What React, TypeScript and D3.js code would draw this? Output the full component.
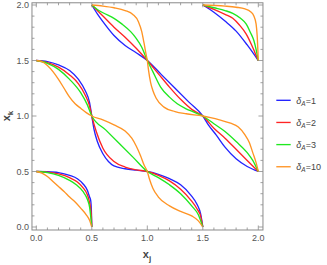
import React from "react";
import * as d3 from "d3";

type P = [number, number];

// δA = 1 (four branches)
const delta1: P[][] = [
  [[0,1.5],[0.1,1.49],[0.2,1.46],[0.3,1.41],[0.38,1.33],[0.44,1.23],[0.48,1.12],[0.5,1.0],[0.52,0.88],[0.55,0.77],[0.6,0.66],[0.65,0.59],[0.7,0.55],[0.8,0.525],[0.9,0.512],[1.0,0.5],[1.1,0.475],[1.2,0.435],[1.3,0.38],[1.39,0.29],[1.45,0.2],[1.48,0.12],[1.5,0]],
  [[0.5,2],[0.55,1.92],[0.6,1.85],[0.7,1.725],[0.8,1.635],[0.9,1.57],[1.0,1.5],[1.125,1.375],[1.25,1.25],[1.375,1.125],[1.5,1.0],[1.55,0.92],[1.62,0.83],[1.7,0.72],[1.8,0.615],[1.9,0.545],[2,0.5]],
  [[0,0.5],[0.1,0.498],[0.2,0.49],[0.3,0.465],[0.37,0.435],[0.42,0.39],[0.46,0.33],[0.48,0.27],[0.49,0.24],[0.497,0.12],[0.5,0]],
  [[1.5,2],[1.6,1.935],[1.7,1.855],[1.8,1.765],[1.9,1.64],[2,1.5]],
];

// δA = 2
const delta2: P[][] = [
  [[0,1.5],[0.1,1.48],[0.2,1.44],[0.3,1.37],[0.38,1.29],[0.44,1.19],[0.48,1.09],[0.5,1.0],[0.54,0.86],[0.6,0.71],[0.7,0.59],[0.8,0.54],[0.9,0.515],[1.0,0.5],[1.1,0.465],[1.2,0.415],[1.3,0.34],[1.39,0.245],[1.45,0.16],[1.48,0.1],[1.5,0]],
  [[0.5,2],[0.6,1.9],[0.7,1.8],[0.8,1.71],[0.9,1.61],[1.0,1.5],[1.1,1.38],[1.2,1.26],[1.3,1.15],[1.4,1.06],[1.5,1.0],[1.6,0.89],[1.7,0.8],[1.8,0.7],[1.9,0.6],[2,0.5]],
  [[0,0.5],[0.1,0.495],[0.2,0.478],[0.3,0.445],[0.37,0.405],[0.42,0.355],[0.46,0.29],[0.48,0.22],[0.495,0.12],[0.5,0]],
  [[1.5,2],[1.6,1.96],[1.7,1.915],[1.77,1.88],[1.83,1.82],[1.89,1.74],[1.94,1.64],[1.97,1.57],[2,1.5]],
];

// δA = 3
const delta3: P[][] = [
  [[0,1.5],[0.1,1.475],[0.2,1.42],[0.3,1.33],[0.4,1.21],[0.46,1.1],[0.5,1.0],[0.625,0.875],[0.75,0.75],[0.875,0.625],[1.0,0.5],[1.1,0.445],[1.2,0.38],[1.3,0.3],[1.4,0.19],[1.46,0.11],[1.5,0]],
  [[0.5,2],[0.55,1.96],[0.6,1.93],[0.7,1.88],[0.77,1.83],[0.85,1.76],[0.9,1.7],[0.95,1.62],[1.0,1.5],[1.05,1.4],[1.12,1.26],[1.2,1.17],[1.27,1.11],[1.35,1.065],[1.42,1.035],[1.5,1.0],[1.6,0.93],[1.7,0.86],[1.8,0.77],[1.9,0.67],[1.95,0.6],[2,0.5]],
  [[0,0.5],[0.1,0.49],[0.2,0.465],[0.3,0.42],[0.36,0.38],[0.42,0.32],[0.46,0.25],[0.48,0.18],[0.5,0]],
  [[1.5,2],[1.6,1.975],[1.7,1.95],[1.77,1.925],[1.84,1.88],[1.89,1.83],[1.93,1.75],[1.96,1.68],[1.98,1.6],[2,1.5]],
];

// δA = 10
const delta10: P[][] = [
  [[0,1.5],[0.05,1.49],[0.1,1.455],[0.15,1.4],[0.2,1.33],[0.25,1.25],[0.3,1.17],[0.35,1.11],[0.4,1.07],[0.45,1.03],[0.5,1.0],[0.6,0.965],[0.7,0.92],[0.8,0.865],[0.86,0.8],[0.9,0.73],[0.94,0.64],[0.97,0.56],[1,0.5],[1.02,0.43],[1.05,0.35],[1.1,0.27],[1.2,0.19],[1.3,0.14],[1.4,0.1],[1.46,0.055],[1.5,0]],
  [[0.5,2],[0.6,1.99],[0.7,1.975],[0.8,1.95],[0.87,1.915],[0.92,1.85],[0.95,1.76],[0.97,1.66],[0.99,1.55],[1.0,1.5],[1.01,1.42],[1.03,1.3],[1.05,1.23],[1.08,1.16],[1.15,1.08],[1.25,1.04],[1.35,1.02],[1.5,1.0],[1.57,0.985],[1.65,0.965],[1.75,0.935],[1.82,0.9],[1.88,0.83],[1.92,0.76],[1.95,0.67],[1.98,0.58],[2,0.5]],
  [[0,0.5],[0.05,0.485],[0.1,0.455],[0.15,0.41],[0.2,0.365],[0.25,0.32],[0.3,0.27],[0.35,0.225],[0.4,0.17],[0.45,0.11],[0.48,0.06],[0.5,0]],
  [[1.5,2],[1.7,1.99],[1.8,1.98],[1.88,1.965],[1.93,1.94],[1.96,1.9],[1.98,1.83],[1.99,1.72],[2,1.5]],
];

const seriesNames = ["1", "2", "3", "10"];
const seriesColors = ["#2424ff", "#ff2424", "#1fe81f", "#ff9424"];
const seriesData = [delta1, delta2, delta3, delta10];

const xTickLabels = ["0.0", "0.5", "1.0", "1.5", "2.0"];
const yTickLabels = ["0.0", "0.5", "1.0", "1.5", "2.0"];

export default function App() {
  const W = 327, H = 265;
  const x = d3.scaleLinear().domain([0, 2]).range([36.3, 258.3]);
  const y = d3.scaleLinear().domain([0, 2]).range([227, 5]);
  const fl = x(-0.039), fr = x(2.042), fb = y(-0.027), ft = y(2.02);
  const line = d3.line<P>().x(d => x(d[0])).y(d => y(d[1])).curve(d3.curveMonotoneX);
  const minor = d3.range(0, 21).map(i => i / 10);
  const frameColor = "#8a8a8a";
  const textColor = "#555";
  const font = "'Liberation Sans', Arial, sans-serif";

  return (
    <svg width={W} height={H} style={{ position: "absolute", left: 0, top: 0 }} fontFamily={font}>
      <rect x={0} y={0} width={W} height={H} fill="#fff" />
      {seriesData.map((branches, si) => (
        <g key={si}>
          {branches.map((b, bi) => (
            <path key={bi} d={line(b) || ""} fill="none" stroke={seriesColors[si]} strokeWidth={1.35} strokeLinejoin="round" />
          ))}
        </g>
      ))}
      <rect x={fl} y={ft} width={fr - fl} height={fb - ft} fill="none" stroke={frameColor} strokeWidth={1} />
      {minor.map((v, i) => {
        const major = Math.abs(v * 2 - Math.round(v * 2)) < 1e-6;
        const len = major ? 4.5 : 2.5;
        return (
          <g key={i} stroke={frameColor} strokeWidth={0.8}>
            <line x1={x(v)} x2={x(v)} y1={fb} y2={fb - len} />
            <line x1={x(v)} x2={x(v)} y1={ft} y2={ft + len} />
            <line x1={fl} x2={fl + len} y1={y(v)} y2={y(v)} />
            <line x1={fr} x2={fr - len} y1={y(v)} y2={y(v)} />
          </g>
        );
      })}
      {xTickLabels.map((t, i) => (
        <text key={i} x={x(i * 0.5)} y={fb + 11} fontSize={9} fill={textColor} textAnchor="middle">{t}</text>
      ))}
      {yTickLabels.map((t, i) => (
        <text key={i} x={fl - 3} y={y(i * 0.5) + 3.2} fontSize={9} fill={textColor} textAnchor="end">{t}</text>
      ))}
      <text x={147} y={258} fontSize={11} fontWeight="bold" fill="#444" textAnchor="middle">
        x<tspan fontSize={8} dy={2.5}>j</tspan>
      </text>
      <text transform="translate(10,116) rotate(-90)" fontSize={11} fontWeight="bold" fill="#444" textAnchor="middle">
        x<tspan fontSize={8} dy={2.5}>k</tspan>
      </text>
      {seriesNames.map((n, i) => {
        const ly = 100.3 + i * 22.15;
        return (
          <g key={i}>
            <line x1={276.3} x2={290.7} y1={ly} y2={ly} stroke={seriesColors[i]} strokeWidth={1.35} />
            <text x={296.3} y={ly + 3.2} fontSize={9} fill="#444">
              <tspan fontStyle="italic">δ</tspan>
              <tspan fontStyle="italic" fontSize={6.5} dy={2}>A</tspan>
              <tspan dy={-2}>=</tspan>
              <tspan>{n}</tspan>
            </text>
          </g>
        );
      })}
    </svg>
  );
}
